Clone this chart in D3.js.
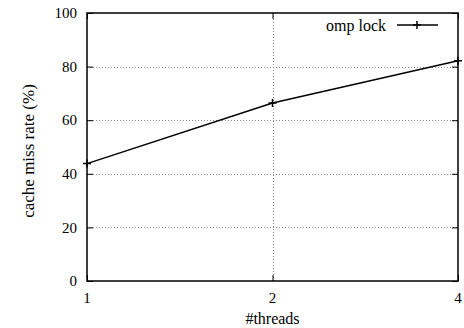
<!DOCTYPE html>
<html>
<head>
<meta charset="utf-8">
<script src="https://cdn.jsdelivr.net/npm/d3@7"></script>
<style>
  body { margin: 0; background: #fff; }
</style>
</head>
<body>
<svg id="chart" width="464" height="328"></svg>
<script>
// data
const threads = [1, 2, 4]
const missRate = [43.8, 66.4, 82.2]
const yTicks = [0, 20, 40, 60, 80, 100]
const seriesName = 'omp lock'

const width = 464
const height = 328
const margin = { top: 13, right: 6, bottom: 47, left: 87 }
const font = 'Liberation Serif, DejaVu Serif, serif'

const svg = d3.select('#chart')
    .style('font-family', font)

const x = d3.scaleLog().base(2)
    .domain([1, 4])
    .range([margin.left, width - margin.right])

const y = d3.scaleLinear()
    .domain([0, 100])
    .range([height - margin.bottom, margin.top])

const x0 = x.range()[0], x1 = x.range()[1]
const y0 = y.range()[0], y1 = y.range()[1]

// grid
const grid = svg.append('g')
    .attr('stroke', '#888')
    .attr('stroke-width', 1)
    .attr('stroke-dasharray', '1,2')

grid.selectAll('line.h')
    .data(yTicks.filter(d => d > 0 && d < 100))
    .join('line')
    .attr('x1', x0).attr('x2', x1)
    .attr('y1', d => Math.round(y(d)) + 0.5)
    .attr('y2', d => Math.round(y(d)) + 0.5)

grid.selectAll('line.v')
    .data(threads.filter(d => d > 1 && d < 4))
    .join('line')
    .attr('x1', d => Math.round(x(d)) + 0.5)
    .attr('x2', d => Math.round(x(d)) + 0.5)
    .attr('y1', y0).attr('y2', y1)

// axes (gnuplot style, ticks inside, mirrored)
const tickLen = 6
const axisL = svg.append('g').attr('transform', `translate(${x0},0)`)
    .call(d3.axisRight(y).tickValues(yTicks).tickSize(tickLen).tickFormat(''))
const axisR = svg.append('g').attr('transform', `translate(${x1},0)`)
    .call(d3.axisLeft(y).tickValues(yTicks).tickSize(tickLen).tickFormat(''))
const axisB = svg.append('g').attr('transform', `translate(0,${y0})`)
    .call(d3.axisTop(x).tickValues(threads).tickSize(tickLen).tickFormat(''))
const axisT = svg.append('g').attr('transform', `translate(0,${y1})`)
    .call(d3.axisBottom(x).tickValues(threads).tickSize(tickLen).tickFormat(''))

for (const a of [axisL, axisR, axisB, axisT]) {
    a.select('.domain').remove()
    a.selectAll('line').attr('stroke', '#000')
}

svg.append('rect')
    .attr('x', x0).attr('y', y1)
    .attr('width', x1 - x0).attr('height', y0 - y1)
    .attr('fill', 'none')
    .attr('stroke', '#000')
    .attr('stroke-width', 1.5)

// tick labels
svg.append('g')
    .selectAll('text')
    .data(yTicks)
    .join('text')
    .style('font-family', font)
    .attr('x', x0 - 10)
    .attr('y', d => y(d))
    .attr('dy', '0.35em')
    .attr('text-anchor', 'end')
    .attr('font-size', 15)
    .text(d => d)

svg.append('g')
    .selectAll('text')
    .data(threads)
    .join('text')
    .style('font-family', font)
    .attr('x', d => x(d))
    .attr('y', y0 + 22)
    .attr('text-anchor', 'middle')
    .attr('font-size', 15)
    .text(d => d)

// axis titles
svg.append('text')
    .style('font-family', font)
    .attr('x', (x0 + x1) / 2)
    .attr('y', height - 4)
    .attr('text-anchor', 'middle')
    .attr('font-size', 16)
    .text('#threads')

svg.append('text')
    .style('font-family', font)
    .attr('transform', `translate(34,${(y0 + y1) / 2 + 4}) rotate(-90)`)
    .attr('text-anchor', 'middle')
    .attr('font-size', 17)
    .text('cache miss rate (%)')

// series
const pts = threads.map((t, i) => [t, missRate[i]])

svg.append('path')
    .datum(pts)
    .attr('fill', 'none')
    .attr('stroke', '#000')
    .attr('stroke-width', 1.5)
    .attr('d', d3.line().x(d => x(d[0])).y(d => y(d[1])))

const plus = (g, cx, cy) => {
    g.append('path')
        .attr('d', `M${cx - 4},${cy}H${cx + 4}M${cx},${cy - 4}V${cy + 4}`)
        .attr('stroke', '#000')
        .attr('stroke-width', 1.5)
}

const marks = svg.append('g')
pts.forEach(d => plus(marks, x(d[0]), y(d[1])))

// legend
const legend = svg.append('g')
legend.append('text')
    .style('font-family', font)
    .attr('x', 386)
    .attr('y', 25)
    .attr('dy', '0.35em')
    .attr('text-anchor', 'end')
    .attr('font-size', 16)
    .text(seriesName)
legend.append('line')
    .attr('x1', 397).attr('x2', 438)
    .attr('y1', 25).attr('y2', 25)
    .attr('stroke', '#000')
    .attr('stroke-width', 1.5)
plus(legend, 417, 25)
</script>
</body>
</html>
